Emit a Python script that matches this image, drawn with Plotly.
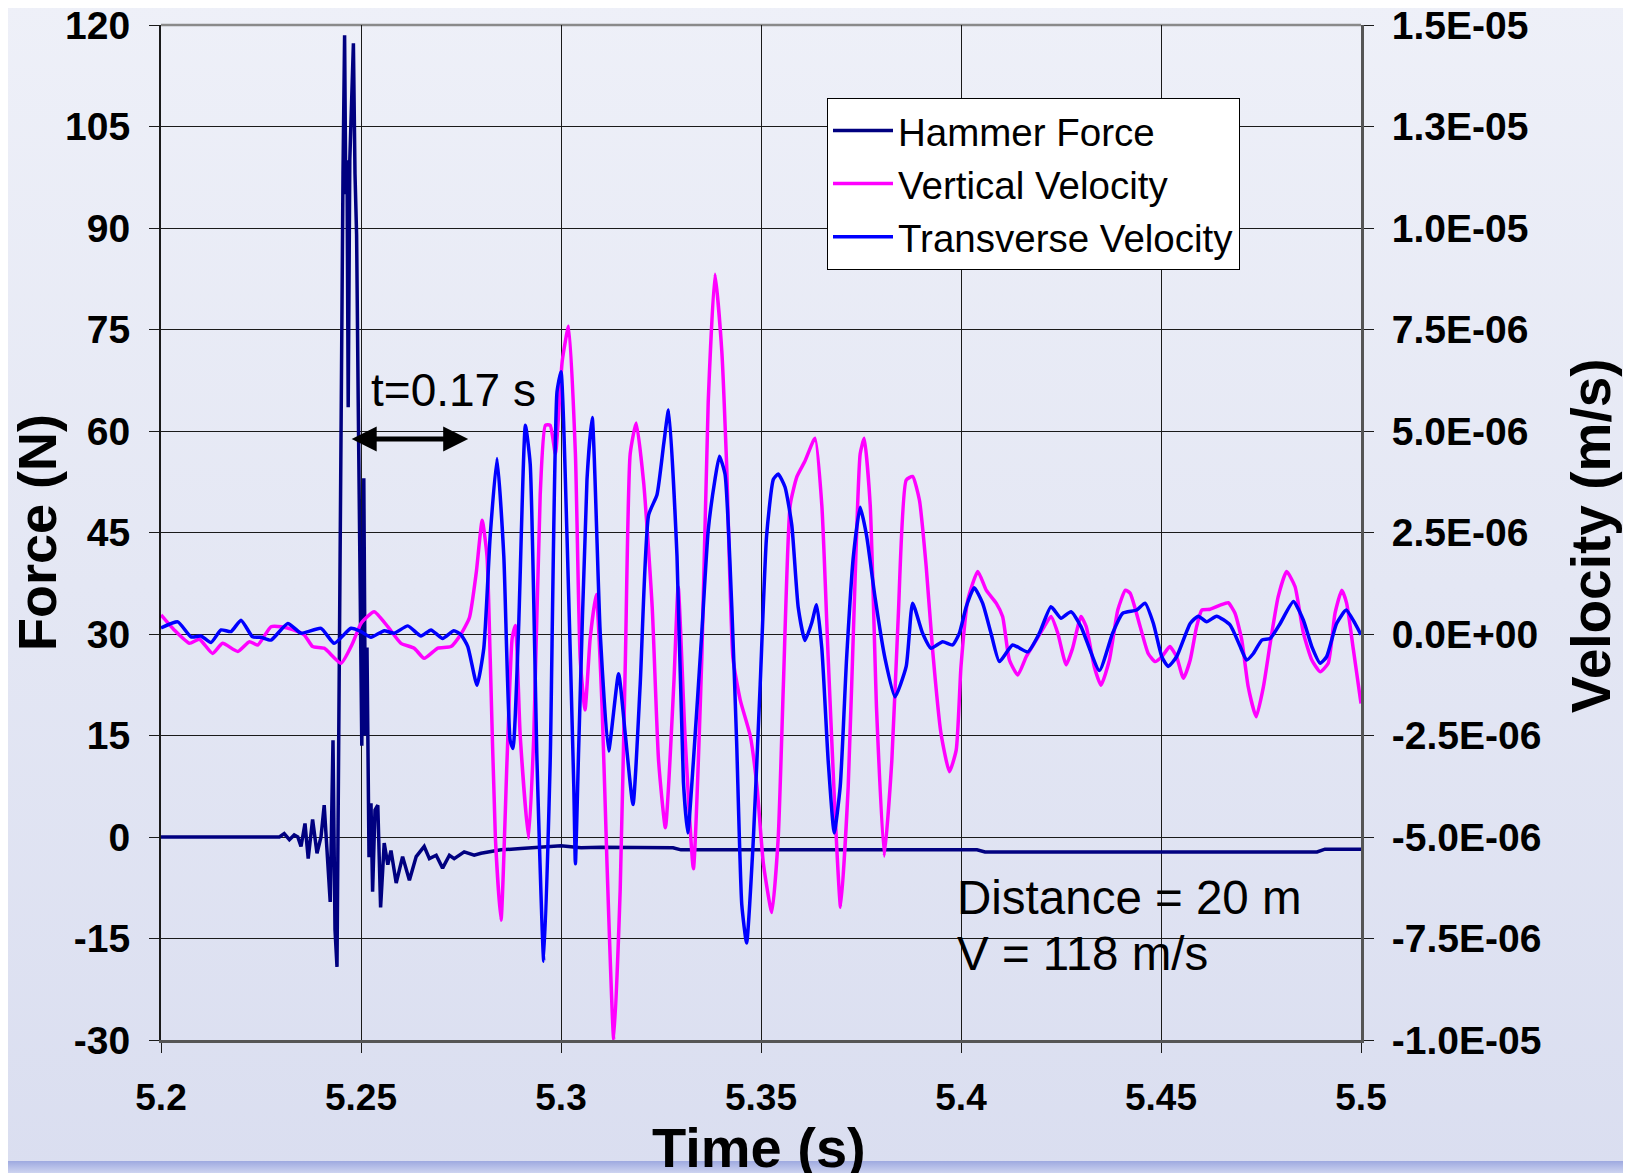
import base64
import plotly.graph_objects as go

# ---------------- data ----------------
force_t = [5.2000, 5.2296, 5.2308, 5.2321, 5.2333, 5.2342, 5.2350, 5.2360, 5.2368, 5.2379,
           5.2390, 5.2400, 5.2408, 5.2417, 5.2423, 5.2430, 5.2435, 5.2440, 5.2445, 5.2450,
           5.2455, 5.2459, 5.2462, 5.2465, 5.2468, 5.2472, 5.2476, 5.2481, 5.2485, 5.2489,
           5.2493, 5.2497, 5.2502, 5.2507, 5.2511, 5.2515, 5.2520, 5.2525, 5.2529, 5.2535,
           5.2542, 5.2549, 5.2558, 5.2567, 5.2575, 5.2588, 5.2604, 5.2621, 5.2638, 5.2658,
           5.2671, 5.2688, 5.2704, 5.2721, 5.2733, 5.2758, 5.2783, 5.2800, 5.2850, 5.2900,
           5.3000, 5.3050, 5.3100, 5.3280, 5.3300, 5.3400, 5.4040, 5.4060, 5.4890, 5.4910,
           5.5000]
force_N = [0.0, 0.0, 0.5, -0.4, 0.3, 0.0, -1.4, 2.0, -3.2, 2.6,
           -2.4, 0.0, 4.7, -3.9, -9.6, 14.3, -13.7, -19.2, 25.0, 70.0,
           98.0, 118.5, 95.0, 100.0, 63.5, 100.0, 108.0, 117.3, 98.0, 89.0,
           64.6, 45.0, 13.5, 53.0, 15.0, 28.0, -3.0, 5.0, -8.1, 4.0,
           4.7, -10.4, -0.9, -4.1, -2.0, -6.8, -2.9, -6.4, -2.9, -1.4,
           -3.2, -2.7, -4.6, -2.7, -3.2, -2.2, -2.7, -2.4, -1.9, -1.7,
           -1.3, -1.6, -1.5, -1.6, -1.9, -1.9, -1.9, -2.2, -2.2, -1.8,
           -1.8]

# vertical velocity, micro-m/s
vert_t = [5.2000, 5.2033, 5.2071, 5.2096, 5.2129, 5.2154, 5.2192, 5.2221, 5.2242, 5.2275,
          5.2300, 5.2329, 5.2358, 5.2379, 5.2408, 5.2450, 5.2479, 5.2500, 5.2533, 5.2567,
          5.2600, 5.2633, 5.2658, 5.2692, 5.2725, 5.2750, 5.2771, 5.2788, 5.2803, 5.2815,
          5.2823, 5.2836, 5.2850, 5.2865, 5.2878, 5.2886, 5.2898, 5.2919, 5.2932, 5.2948,
          5.2961, 5.2973, 5.2986, 5.3003, 5.3019, 5.3036, 5.3048, 5.3060, 5.3073, 5.3088,
          5.3103, 5.3115, 5.3132, 5.3148, 5.3161, 5.3173, 5.3188, 5.3207, 5.3228, 5.3244,
          5.3261, 5.3282, 5.3293, 5.3310, 5.3331, 5.3352, 5.3368, 5.3385, 5.3402, 5.3414,
          5.3430, 5.3448, 5.3473, 5.3490, 5.3506, 5.3527, 5.3543, 5.3556, 5.3573, 5.3590,
          5.3610, 5.3635, 5.3652, 5.3668, 5.3685, 5.3699, 5.3718, 5.3735, 5.3748, 5.3758,
          5.3773, 5.3789, 5.3808, 5.3827, 5.3843, 5.3863, 5.3879, 5.3896, 5.3913, 5.3929,
          5.3950, 5.3971, 5.3988, 5.4000, 5.4017, 5.4042, 5.4063, 5.4088, 5.4104, 5.4121,
          5.4142, 5.4163, 5.4188, 5.4208, 5.4225, 5.4242, 5.4263, 5.4279, 5.4300, 5.4313,
          5.4333, 5.4350, 5.4371, 5.4392, 5.4411, 5.4423, 5.4448, 5.4468, 5.4485, 5.4502,
          5.4522, 5.4539, 5.4556, 5.4573, 5.4589, 5.4602, 5.4623, 5.4648, 5.4668, 5.4685,
          5.4702, 5.4718, 5.4738, 5.4756, 5.4773, 5.4793, 5.4814, 5.4835, 5.4856, 5.4877,
          5.4898, 5.4918, 5.4935, 5.4952, 5.4964, 5.4981, 5.5000]
vert_um = [0.47, 0.10, -0.23, -0.13, -0.48, -0.23, -0.43, -0.19, -0.27, 0.18,
           0.18, 0.11, -0.02, -0.31, -0.35, -0.72, -0.23, 0.26, 0.55, 0.18,
           -0.23, -0.35, -0.60, -0.35, -0.31, 0.00, 0.40, 1.50, 2.80, 1.92,
           -0.60, -5.03, -7.05, -3.13, -0.10, 0.21, -2.50, -5.03, -2.50, 3.43,
           5.14, 5.14, 4.44, 6.72, 7.58, 4.44, -0.60, -1.87, -0.10, 0.97,
           -1.87, -5.66, -10.0, -6.29, -0.60, 4.44, 5.20, 3.69, 0.66, -3.13,
           -4.77, -1.24, 1.16, -2.50, -5.78, -0.60, 5.70, 8.86, 6.97, 4.19,
           -0.60, -1.62, -2.50, -3.76, -5.66, -6.86, -5.03, -1.24, 3.18, 3.88,
           4.26, 4.82, 3.18, -0.60, -4.39, -6.73, -3.76, 1.29, 4.44, 4.82,
           3.18, -1.87, -5.47, -3.13, 0.40, 3.79, 3.88, 3.30, 1.66, -0.39,
           -2.45, -3.39, -2.86, -0.80, 0.84, 1.54, 1.08, 0.76, 0.43, -0.64,
           -1.01, -0.56, -0.15, 0.18, 0.43, 0.02, -0.76, -0.35, 0.43, 0.18,
           -0.80, -1.26, -0.64, 0.59, 1.08, 1.00, 0.18, -0.48, -0.68, -0.56,
           -0.31, -0.56, -1.09, -0.64, 0.18, 0.59, 0.61, 0.71, 0.77, 0.51,
           -0.15, -1.30, -2.04, -1.30, -0.23, 0.92, 1.54, 1.17, 0.02, -0.64,
           -0.93, -0.72, 0.51, 1.08, 0.76, -0.39, -1.71]

# transverse velocity, micro-m/s
trans_t = [5.2000, 5.2042, 5.2075, 5.2100, 5.2125, 5.2150, 5.2175, 5.2200, 5.2229, 5.2250,
           5.2275, 5.2317, 5.2350, 5.2400, 5.2433, 5.2475, 5.2500, 5.2525, 5.2558, 5.2583,
           5.2617, 5.2650, 5.2675, 5.2704, 5.2732, 5.2750, 5.2767, 5.2790, 5.2807, 5.2823,
           5.2840, 5.2857, 5.2873, 5.2880, 5.2894, 5.2911, 5.2923, 5.2940, 5.2957, 5.2973,
           5.2990, 5.3000, 5.3015, 5.3032, 5.3036, 5.3044, 5.3065, 5.3078, 5.3098, 5.3119,
           5.3144, 5.3161, 5.3180, 5.3198, 5.3219, 5.3240, 5.3257, 5.3269, 5.3290, 5.3306,
           5.3317, 5.3331, 5.3352, 5.3368, 5.3385, 5.3396, 5.3410, 5.3427, 5.3439, 5.3452,
           5.3464, 5.3481, 5.3498, 5.3514, 5.3531, 5.3543, 5.3560, 5.3577, 5.3593, 5.3610,
           5.3627, 5.3639, 5.3652, 5.3668, 5.3683, 5.3698, 5.3714, 5.3731, 5.3748, 5.3764,
           5.3785, 5.3810, 5.3835, 5.3863, 5.3879, 5.3904, 5.3925, 5.3954, 5.3979, 5.3996,
           5.4013, 5.4033, 5.4054, 5.4075, 5.4096, 5.4129, 5.4167, 5.4196, 5.4225, 5.4250,
           5.4275, 5.4300, 5.4346, 5.4379, 5.4404, 5.4439, 5.4460, 5.4481, 5.4502, 5.4518,
           5.4539, 5.4573, 5.4593, 5.4614, 5.4639, 5.4673, 5.4698, 5.4714, 5.4731, 5.4752,
           5.4773, 5.4798, 5.4831, 5.4856, 5.4877, 5.4898, 5.4914, 5.4939, 5.4963, 5.4985,
           5.5000]
trans_um = [0.15, 0.30, -0.07, -0.05, -0.21, 0.10, 0.06, 0.34, -0.07, -0.08,
            -0.15, 0.26, 0.02, 0.14, -0.23, 0.14, 0.06, -0.08, 0.08, 0.02,
            0.20, -0.05, 0.10, -0.11, 0.08, -0.02, -0.31, -1.26, -0.35, 2.42,
            4.32, 1.92, -2.63, -2.82, 0.15, 5.14, 4.19, -3.13, -8.06, -3.13,
            5.96, 6.46, 2.42, -3.76, -5.66, -2.88, 3.81, 5.33, 0.03, -2.88,
            -0.98, -2.50, -4.20, -1.24, 2.93, 3.43, 4.70, 5.52, 1.92, -3.64,
            -4.90, -3.13, 0.03, 2.55, 3.81, 4.38, 3.94, 0.66, -2.63, -6.67,
            -7.61, -5.03, -1.24, 2.42, 3.81, 3.94, 3.62, 2.68, 0.66, -0.16,
            0.28, 0.72, -0.35, -3.13, -4.90, -3.76, -0.60, 1.92, 3.12, 2.42,
            0.91, -0.60, -1.55, -0.80, 0.76, 0.02, -0.35, -0.19, -0.27, 0.02,
            0.67, 1.14, 0.76, 0.02, -0.68, -0.27, -0.44, 0.02, 0.67, 0.39,
            0.55, 0.18, -0.90, 0.02, 0.51, 0.59, 0.76, 0.26, -0.56, -0.80,
            -0.56, 0.26, 0.44, 0.30, 0.44, 0.22, -0.31, -0.64, -0.48, -0.15,
            -0.11, 0.26, 0.80, 0.34, -0.31, -0.72, -0.56, 0.26, 0.59, 0.26,
            -0.02]

x_ticks = [5.2, 5.25, 5.3, 5.35, 5.4, 5.45, 5.5]
x_tick_labels = ["5.2", "5.25", "5.3", "5.35", "5.4", "5.45", "5.5"]
force_ticks = [-30, -15, 0, 15, 30, 45, 60, 75, 90, 105, 120]
force_tick_labels = ["-30", "-15", "0", "15", "30", "45", "60", "75", "90", "105", "120"]
vel_ticks = [-1.0e-5, -7.5e-6, -5.0e-6, -2.5e-6, 0.0, 2.5e-6, 5.0e-6, 7.5e-6, 1.0e-5, 1.25e-5, 1.5e-5]
vel_tick_labels = ["-1.0E-05", "-7.5E-06", "-5.0E-06", "-2.5E-06", "0.0E+00", "2.5E-06",
                   "5.0E-06", "7.5E-06", "1.0E-05", "1.3E-05", "1.5E-05"]

arrow_start_t = 5.2473
arrow_end_t = 5.2768
arrow_force = 58.8

# ---------------- layout helpers ----------------
# the page body adds an 8px offset; screen coords below are those of the photographed window
OFF = 8
W, H = 1631 - OFF, 1173 - OFF
L, R, T, B = 161, 1361, 25, 1040          # plot area in screen pixels
PW, PH = R - L, B - T


def px_x(px):
    return (px - L) / PW


def px_y(py):
    return (B - py) / PH


FONT = "Liberation Sans, Arial, sans-serif"

fig = go.Figure()
fig.add_trace(go.Scatter(x=force_t, y=force_N, name="Hammer Force", mode="lines",
                         line=dict(color="#000080", width=3.5)))
fig.add_trace(go.Scatter(x=vert_t, y=[v * 1e-6 for v in vert_um], name="Vertical Velocity",
                         mode="lines", yaxis="y2",
                         line=dict(color="#ff00ff", width=3.5, shape="spline", smoothing=0.5)))
fig.add_trace(go.Scatter(x=trans_t, y=[v * 1e-6 for v in trans_um], name="Transverse Velocity",
                         mode="lines", yaxis="y2",
                         line=dict(color="#0000ff", width=3.5, shape="spline", smoothing=0.5)))

svg = (
    "<svg xmlns='http://www.w3.org/2000/svg' width='1631' height='1173' preserveAspectRatio='none'>"
    "<defs><linearGradient id='g' x1='0' y1='0' x2='0' y2='1'>"
    "<stop offset='0' stop-color='#eef0f8'/><stop offset='1' stop-color='#dadef0'/></linearGradient>"
    "<linearGradient id='b' x1='0' y1='0' x2='0' y2='1'>"
    "<stop offset='0' stop-color='#9ea9e0'/><stop offset='1' stop-color='#cdd3f0'/></linearGradient></defs>"
    "<rect width='1631' height='1173' fill='url(#g)'/>"
    "<rect y='1161' width='1631' height='12' fill='url(#b)'/></svg>"
)
bg_src = "data:image/svg+xml;base64," + base64.b64encode(svg.encode()).decode()

x_tick_font = dict(size=37, weight="bold", family=FONT)
y_tick_font = dict(size=39, weight="bold", family=FONT)

fig.update_layout(
    width=W, height=H,
    margin=dict(l=L - OFF, r=W - (R - OFF), t=T - OFF, b=H - (B - OFF), autoexpand=False),
    paper_bgcolor="#e6e8f4",
    plot_bgcolor="rgba(0,0,0,0)",
    font=dict(family=FONT, color="black"),
    images=[dict(source=bg_src, xref="paper", yref="paper", x=px_x(0), y=px_y(0),
                 sizex=1631 / PW, sizey=1173 / PH, xanchor="left", yanchor="top",
                 sizing="stretch", layer="below")],
    xaxis=dict(range=[5.2, 5.5], tickvals=x_ticks, ticktext=x_tick_labels, automargin=False,
               showgrid=True, gridcolor="#1a1a1a", gridwidth=1,
               showline=True, linecolor="#555555", linewidth=3,
               ticks="outside", ticklen=10, tickcolor="#1a1a1a", tickwidth=1,
               ticklabelstandoff=13, ticklabeloverflow="allow",
               tickfont=x_tick_font, zeroline=False),
    yaxis=dict(range=[-30, 120], tickvals=force_ticks, ticktext=force_tick_labels, automargin=False,
               showgrid=True, gridcolor="#1a1a1a", gridwidth=1,
               showline=True, linecolor="#1a1a1a", linewidth=2,
               ticks="outside", ticklen=10, tickcolor="#1a1a1a", tickwidth=1,
               ticklabelstandoff=11, ticklabeloverflow="allow",
               tickfont=y_tick_font, zeroline=False),
    yaxis2=dict(range=[-1.0e-5, 1.5e-5], tickvals=vel_ticks, ticktext=vel_tick_labels,
                overlaying="y", side="right", showgrid=False, automargin=False,
                showline=True, linecolor="#555555", linewidth=3,
                ticks="outside", ticklen=10, tickcolor="#1a1a1a", tickwidth=1,
                ticklabelstandoff=10, ticklabeloverflow="allow",
                tickfont=y_tick_font, zeroline=False),
    legend=dict(x=px_x(827), y=px_y(98), xanchor="left", yanchor="top",
                bgcolor="white", bordercolor="black", borderwidth=1,
                font=dict(size=38.5, family=FONT), itemwidth=60,
                tracegroupgap=0),
    showlegend=True,
    shapes=[dict(type="line", xref="paper", yref="paper", x0=0, x1=1, y0=1, y1=1,
                 line=dict(color="#8a8a8a", width=2.5), layer="below")],
)

annotations = [
    dict(text="Force (N)", x=px_x(37), y=px_y(533), xref="paper", yref="paper",
         textangle=-90, showarrow=False, xanchor="center", yanchor="middle",
         font=dict(size=54, weight="bold", family=FONT)),
    dict(text="Velocity (m/s)", x=px_x(1591), y=px_y(536), xref="paper", yref="paper",
         textangle=-90, showarrow=False, xanchor="center", yanchor="middle",
         font=dict(size=55, weight="bold", family=FONT)),
    dict(text="Time (s)", x=px_x(759), y=px_y(1147), xref="paper", yref="paper",
         showarrow=False, xanchor="center", yanchor="middle",
         font=dict(size=56, weight="bold", family=FONT)),
    dict(text="t=0.17 s", x=px_x(453), y=px_y(390), xref="paper", yref="paper",
         showarrow=False, xanchor="center", yanchor="middle",
         font=dict(size=46, family=FONT)),
    dict(text="Distance = 20 m", x=px_x(955), y=px_y(897), xref="paper", yref="paper",
         showarrow=False, xanchor="left", yanchor="middle",
         font=dict(size=47.5, family=FONT)),
    dict(text="V = 118 m/s", x=px_x(955), y=px_y(953), xref="paper", yref="paper",
         showarrow=False, xanchor="left", yanchor="middle",
         font=dict(size=47.5, family=FONT)),
    dict(text="", x=arrow_end_t, y=arrow_force, ax=arrow_start_t, ay=arrow_force,
         xref="x", yref="y", axref="x", ayref="y", showarrow=True,
         arrowside="end+start", arrowhead=2, startarrowhead=2,
         arrowsize=1, startarrowsize=1, arrowwidth=5, arrowcolor="black"),
]
fig.update_layout(annotations=annotations)

fig.write_html("out.html")
